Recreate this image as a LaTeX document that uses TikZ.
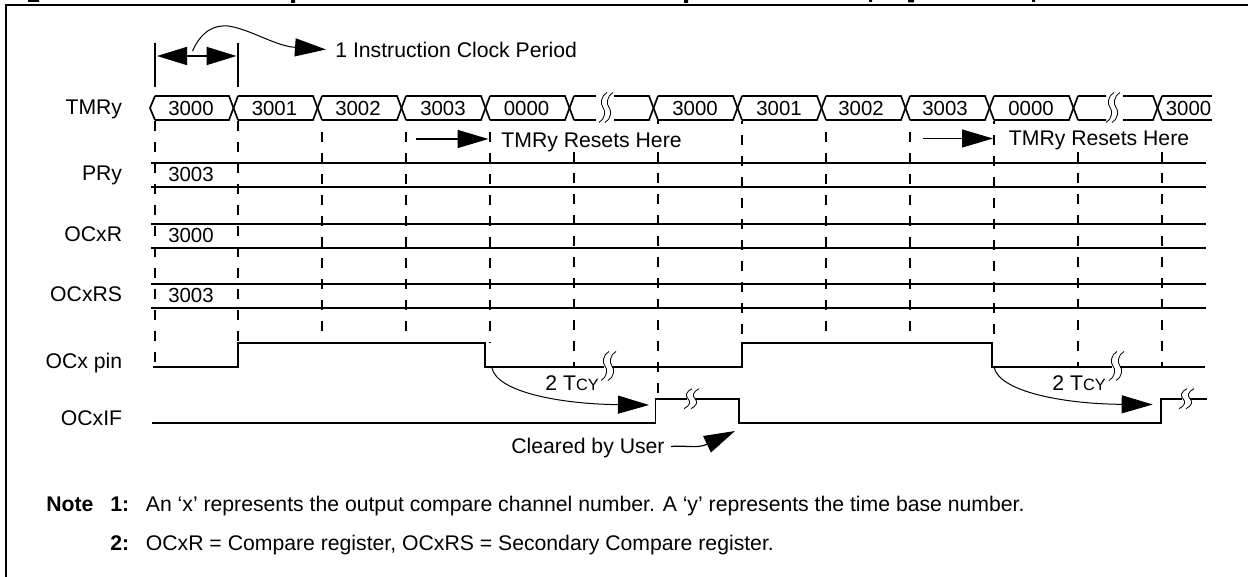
\documentclass[tikz,border=0pt]{standalone}
\usepackage{fontspec}
\setmainfont{Liberation Sans}
\usetikzlibrary{arrows.meta}
\tikzset{
    sigline/.style={black, line width=0.85pt},
    gridline/.style={black, line width=1pt, dash pattern=on 5pt off 5.5pt},
    thinline/.style={black, line width=0.4pt},
    bigtip/.style={-{Triangle[length=15.5pt,width=9pt]}},
    lbl/.style={inner sep=0pt, font=\fontsize{10.6}{12}\selectfont},
    numlbl/.style={inner sep=0pt, font=\fontsize{10.2}{12}\selectfont},
    boldlbl/.style={inner sep=0pt, font=\fontsize{10.6}{12}\selectfont\bfseries}
}
% two thin S strokes over a signal: x of the left one, y of the middle, half height, spacing
\newcommand{\sigbreak}[4]{
    \fill[white] (#1+2,#2-3) rectangle (#1+#4+3,#2+3);
    \foreach \off in {0,#4}
        \draw[thinline] (#1+\off-1,#2+#3) .. controls (#1+\off+5,#2+#3-3) and (#1+\off+6,#2+3) .. (#1+\off+3,#2) .. controls (#1+\off,#2-3) and (#1+\off+1,#2-#3+3) .. (#1+\off+7,#2-#3);
}
\begin{document}
\begin{tikzpicture}[x=0.5pt,y=-0.5pt]
        \useasboundingbox (0,0) rectangle (1248,577);
        % frame
        \draw[black, line width=0.95pt] (6,577) -- (6,5);
        \draw[black, line width=1.3pt] (4.5,5) -- (1248,5);
        % clipped heading
        \fill[black] (28,0) rectangle (39,2) (291,0) rectangle (295,3) (684,0) rectangle (688,3) (869,0) rectangle (872,2) (908,0) rectangle (914,2.5) (1032,0) rectangle (1035,2);
        % grid lines x/top/bottom/phase
        \foreach \gx/\gtop/\gend/\gph in {155/121/366/0pt,238/121/343/0pt,322/121/344/5pt,406/121/344/5pt,490/121/343/5pt,574/152/366/0pt,658/152/398/0pt,742/121/343/3.5pt,826/121/344/5pt,910/121/344/5pt,994/121/343/3.5pt,1078/152/366/0pt,1162/152/366/0pt}
            \draw[gridline, dash phase=\gph] (\gx,\gtop) -- (\gx,\gend);
        \draw[gridline] (658,120) -- (658,124);
        \draw[sigline] (155,43) -- (155,87);
        \draw[sigline] (238,43) -- (238,87);
        % clock period
        \coordinate (perL) at (157,56);
        \coordinate (perR) at (236.5,56);
        \coordinate (perA) at (192.5,51);
        \coordinate (perB) at (326,49.5);
        \draw[sigline, {Triangle[length=15pt,width=9pt]}-{Triangle[length=15pt,width=9pt]}] (perL) -- (perR);
        \draw[thinline, line width=0.5pt, bigtip] (perA) .. controls (202,30) and (215,25) .. (228,26) .. controls (250,29) and (275,46) .. (perB);
        \node[lbl, anchor=base west] (period) at (335,58) {1 Instruction Clock Period};
        % register rows
        \foreach \rowy/\rowname/\rowtxt/\rowval in {186.7/pry/PRy/3003,247.7/ocxr/OCxR/3000,307.7/ocxrs/OCxRS/3003}{
            \draw[sigline] (151,\rowy-24) -- (1206,\rowy-24);
            \draw[sigline] (151,\rowy) -- (1206,\rowy);
            \node[lbl, anchor=base east] (\rowname) at (122.5,\rowy-6) {\rowtxt};
            \node[numlbl] (\rowname val) at (191,\rowy-12) {\rowval};
        }
        % TMRy bus
        \node[lbl, anchor=base east] (tmry) at (122.5,115) {TMRy};
        \draw[sigline] (155,96) -- (150,108) -- (155,120);
        \foreach \xa/\xb/\busval/\busx in {155/238/3000/191,238/322/3001/274.5,322/406/3002/358,406/490/3003/443,490/574/0000/526.5,658/742/3000/695,742/826/3001/779,826/910/3002/861,910/994/3003/945,994/1078/0000/1031}{
            \draw[sigline] (\xa,96) -- (\xb-9,96) -- (\xb,120);
            \draw[sigline] (\xa,120) -- (\xb-9,120) -- (\xb,96);
            \node[numlbl] at (\busx,108) {\busval};
        }
        \draw[sigline] (574,96) -- (596,96) (614,96) -- (649,96) -- (658,120);
        \draw[sigline] (574,120) -- (596,120) (614,120) -- (649,120) -- (658,96);
        \draw[sigline] (1078,96) -- (1106,96) (1123,96) -- (1153,96) -- (1162,120);
        \draw[sigline] (1078,120) -- (1106,120) (1123,120) -- (1153,120) -- (1162,96);
        \draw[sigline] (1212,96) -- (1162,96) (1162,120) -- (1212,120);
        \node[numlbl] (lastval) at (1188.5,108) {3000};
        \sigbreak{600}{107.5}{15}{6}
        \sigbreak{1107}{107.5}{15}{6}
        % resets
        \coordinate (rstA) at (416,139);
        \coordinate (rstB) at (488.5,139);
        \coordinate (rstC) at (923,138.5);
        \coordinate (rstD) at (993,138.5);
        \draw[sigline, bigtip] (rstA) -- (rstB);
        \draw[thinline, line width=0.6pt, bigtip] (rstC) -- (rstD);
        \node[lbl, anchor=base west] (rst1) at (501,148) {TMRy Resets Here};
        \node[lbl, anchor=base west] (rst2) at (1008.5,146) {TMRy Resets Here};
        % OCx pin
        \node[lbl, anchor=base east] (ocxpin) at (122.5,369) {OCx pin};
        \draw[sigline] (153,366.7) -- (238,366.7) -- (238,342.7) -- (484.7,342.7) -- (484.7,366.7) -- (742,366.7) -- (742,342.7) -- (992,342.7) -- (992,366.7) -- (1205,366.7);
        \sigbreak{602}{366}{14.5}{7}
        \sigbreak{1110}{366}{14.5}{7}
        % OCxIF
        \node[lbl, anchor=base east] (ocxif) at (122.5,425) {OCxIF};
        \draw[sigline] (152,422.7) -- (655.6,422.7) -- (655.6,398.7) -- (738.8,398.7) -- (738.8,422.7) -- (1161.3,422.7) -- (1161.3,398.7) -- (1206.5,398.7);
        \sigbreak{685}{398.7}{10}{7}
        \sigbreak{1180}{398.7}{10}{7}
        % delays
        \coordinate (dlyA) at (492,368);
        \coordinate (dlyB) at (649,405);
        \coordinate (dlyC) at (994,367);
        \coordinate (dlyD) at (1152.7,404.5);
        \draw[thinline, line width=0.5pt, bigtip] (dlyA) .. controls (497,392) and (560,404) .. (dlyB);
        \draw[thinline, line width=0.5pt, bigtip] (dlyC) .. controls (999,392) and (1065,404) .. (dlyD);
        \node[lbl, anchor=base west] (tcy1) at (545,391) {2 T{\fontsize{8.2}{9}\selectfont CY}};
        \node[lbl, anchor=base west] (tcy2) at (1052,391) {2 T{\fontsize{8.2}{9}\selectfont CY}};
        % cleared
        \node[lbl, anchor=base west] (cleared) at (511,453) {Cleared by User};
        \coordinate (clrA) at (671,446.5);
        \coordinate (clrB) at (735,431);
        \draw[thinline, line width=0.6pt, bigtip] (clrA) .. controls (685,445) and (697,449) .. (clrB);
        % notes
        \node[boldlbl, anchor=base west] (notehd) at (46,511) {Note};
        \node[boldlbl, anchor=base west] (note1n) at (110,511) {1:};
        \node[lbl, anchor=base west] (note1) at (145.5,511) {An ‘x’ represents the output compare channel number. A ‘y’ represents the time base number.};
        \node[boldlbl, anchor=base west] (note2n) at (110,550.5) {2:};
        \node[lbl, anchor=base west] (note2) at (145.5,550.5) {OCxR = Compare register, OCxRS = Secondary Compare register.};
    \end{tikzpicture}
\end{document}
